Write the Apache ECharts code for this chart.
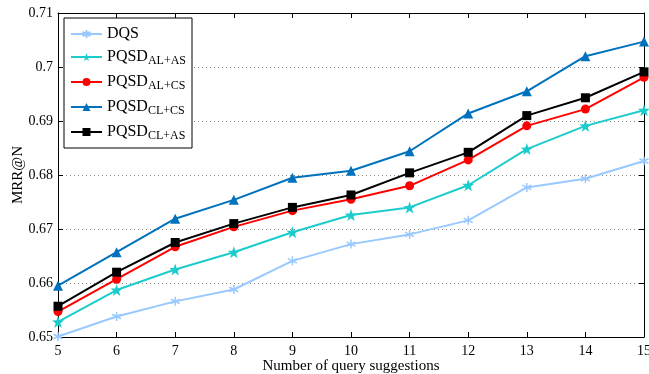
<!DOCTYPE html>
<html>
<head>
<meta charset="utf-8">
<script src="https://cdn.jsdelivr.net/npm/echarts@6/dist/echarts.min.js"></script>
<style>
html, body { margin: 0; padding: 0; background: #fff; }
#main { width: 649px; height: 374px; }
</style>
</head>
<body>
<div id="main"></div>
<script>
// N = number of query suggestions
let xLabels = ['5', '6', '7', '8', '9', '10', '11', '12', '13', '14', '15'];

let dqs     = [0.6501, 0.6538, 0.6566, 0.6588, 0.6641, 0.6672, 0.6690, 0.6716, 0.6777, 0.6793, 0.6826];
let alAs    = [0.6528, 0.6587, 0.6625, 0.6657, 0.6694, 0.6726, 0.6740, 0.6781, 0.6848, 0.6891, 0.6920];
let alCs    = [0.6547, 0.6607, 0.6667, 0.6704, 0.6734, 0.6755, 0.6780, 0.6828, 0.6891, 0.6922, 0.6981];
let clCs    = [0.6595, 0.6657, 0.6719, 0.6754, 0.6795, 0.6808, 0.6844, 0.6914, 0.6955, 0.7020, 0.7047];
let clAs    = [0.6557, 0.6620, 0.6675, 0.6710, 0.6740, 0.6763, 0.6804, 0.6842, 0.6910, 0.6943, 0.6991];

let FONT = '"Liberation Serif", "Times New Roman", serif';

let asterisk = 'path://M0,-10L0,10M-8.66,-5L8.66,5M-8.66,5L8.66,-5';
let star = 'path://M0,-10L2.35,-3.24L9.51,-3.09L3.8,1.24L5.88,8.09L0,4L-5.88,8.09L-3.8,1.24L-9.51,-3.09L-2.35,-3.24Z';

function mk(name, data, color, symbol, size, stroke) {
	return {
		name: name,
		type: 'line',
		data: data,
		symbol: symbol,
		symbolSize: size,
		showSymbol: true,
		lineStyle: { color: color, width: 2 },
		itemStyle: { color: color, borderColor: color, borderWidth: stroke || 0 },
		emphasis: { disabled: true },
		z: 3
	};
}

let chart = echarts.init(document.getElementById('main'));

let option = {
	animation: false,
	backgroundColor: '#fff',
	grid: { left: 58, right: 5, top: 13, bottom: 37, show: false, outerBoundsMode: 'none', containLabel: false },
	legend: {
		orient: 'vertical',
		left: 64,
		top: 18,
		padding: [8, 6, 6, 6],
		itemGap: 7,
		itemWidth: 31,
		itemHeight: 10,
		backgroundColor: '#fff',
		borderColor: '#000',
		borderWidth: 1,
		borderRadius: 0,
		data: ['DQS', 'PQSD_AL+AS', 'PQSD_AL+CS', 'PQSD_CL+CS', 'PQSD_CL+AS'],
		formatter: function (name) {
			let p = name.split('_');
			if (p.length > 1) return '{a|' + p[0] + '}{s|' + p[1] + '}';
			return '{b|' + name + '}';
		},
		textStyle: {
			fontFamily: FONT,
			fontSize: 16,
			color: '#000',
			rich: {
				a: { fontFamily: FONT, fontSize: 16, color: '#000' },
				b: { fontFamily: FONT, fontSize: 16, color: '#000', lineHeight: 10 },
				s: { fontFamily: FONT, fontSize: 12, color: '#000', padding: [8, 0, 0, 0] }
			}
		}
	},
	xAxis: [{
		type: 'category',
		data: xLabels,
		boundaryGap: false,
		name: 'Number of query suggestions',
		nameLocation: 'middle',
		nameGap: 22,
		nameMoveOverlap: false,
		nameTextStyle: { fontFamily: FONT, fontSize: 15, color: '#000' },
		axisLine: { lineStyle: { color: '#000', width: 1 } },
		axisTick: { inside: true, length: 5, lineStyle: { color: '#000' } },
		axisLabel: { fontFamily: FONT, fontSize: 14, color: '#000', margin: 7 },
		splitLine: { show: false }
	}, {
		type: 'category',
		data: xLabels,
		boundaryGap: false,
		position: 'top',
		axisLine: { lineStyle: { color: '#000', width: 1 } },
		axisTick: { inside: true, length: 5, lineStyle: { color: '#000' } },
		axisLabel: { show: false },
		splitLine: { show: false }
	}],
	yAxis: [{
		type: 'value',
		min: 0.65,
		max: 0.71,
		interval: 0.01,
		name: 'MRR@N',
		nameLocation: 'middle',
		nameGap: 32,
		nameMoveOverlap: false,
		nameTextStyle: { fontFamily: FONT, fontSize: 15, color: '#000' },
		axisLine: { show: true, lineStyle: { color: '#000', width: 1 } },
		axisTick: { show: true, inside: true, length: 5, lineStyle: { color: '#000' } },
		axisLabel: { fontFamily: FONT, fontSize: 14, color: '#000', margin: 5 },
		splitLine: { show: true, lineStyle: { color: '#888', type: [1, 3], width: 1 } }
	}, {
		type: 'value',
		min: 0.65,
		max: 0.71,
		interval: 0.01,
		position: 'right',
		axisLine: { show: true, lineStyle: { color: '#000', width: 1 } },
		axisTick: { show: true, inside: true, length: 5, lineStyle: { color: '#000' } },
		axisLabel: { show: false },
		splitLine: { show: false }
	}],
	series: [
		mk('DQS', dqs, '#99c9ff', asterisk, 9, 1.5),
		mk('PQSD_AL+AS', alAs, '#1ccccc', star, 12),
		mk('PQSD_AL+CS', alCs, '#ff0000', 'circle', 9),
		mk('PQSD_CL+CS', clCs, '#0072bd', 'triangle', 10),
		mk('PQSD_CL+AS', clAs, '#000000', 'rect', 9)
	]
};

chart.setOption(option);
</script>
</body>
</html>
